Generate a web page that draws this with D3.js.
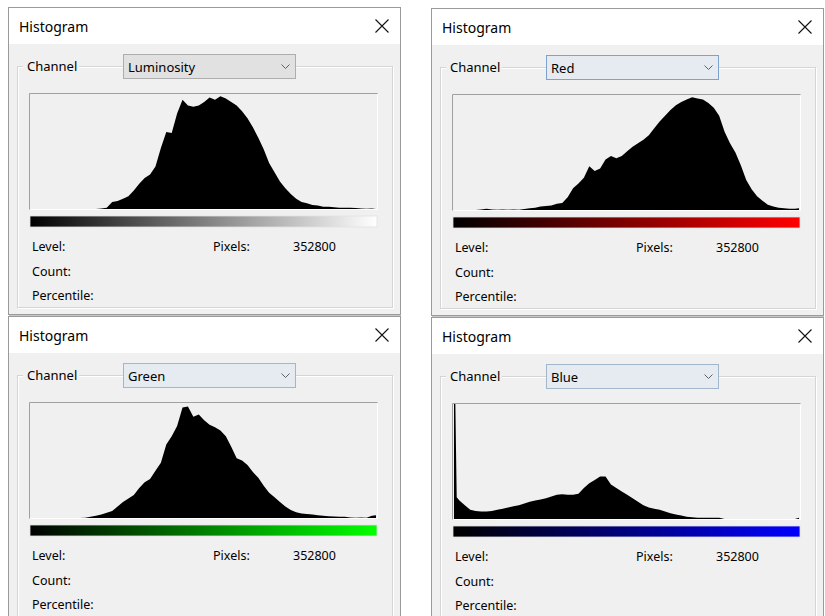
<!DOCTYPE html>
<html>
<head>
<meta charset="utf-8">
<script src="https://cdn.jsdelivr.net/npm/d3@7"></script>
<style>
  html, body { margin: 0; padding: 0; background: #ffffff; }
  svg { display: block; font-family: "Segoe UI", "Noto Sans", "Open Sans", sans-serif; }
</style>
</head>
<body>
<svg id="chart" width="825" height="616"></svg>
<script>
// Sample levels (0..255) at which counts were read (relative counts, max = 100)
const levels = [0, 1, 2].concat(d3.range(4, 253, 4)).concat([255]);

const channels = ["Luminosity", "Red", "Green", "Blue"];
const pixelTotals = ["352800", "352800", "352800", "352800"];
const infoLabels = ["Level:", "Count:", "Percentile:"];

const luminosityCounts = [0, 0, 0,
  0, 0, 0, 0, 0, 0, 0, 0, 0, 0, 0, 0,
  0.5, 1, 6, 7, 9, 11, 16, 22, 27, 30, 37, 53, 67, 66, 83, 95, 90, 89, 90, 93, 97, 95, 98, 96,
  93, 90, 85, 79, 71, 62, 52, 40, 32, 24, 18, 13, 9, 6, 5, 3.5, 3, 2, 2, 1.5, 1, 1, 1, 0.8,
  0.5, 0.3, 0.5,
  0];

const redCounts = [0, 0, 0,
  0, 0, 0, 0, 0.5, 1, 0.5, 0.3, 0.5, 0.3, 0.5, 0.3,
  0.8, 1.5, 2, 3, 3.5, 4, 5.5, 6, 11, 19, 23, 28, 38, 34, 36, 44, 47, 45, 47, 51, 55, 58,
  61, 65, 71, 77, 82, 87, 91, 94, 96, 98, 97, 96, 93, 89, 82, 68, 58, 50, 39, 26, 18, 12, 8,
  4.5, 3, 2, 1.5, 1, 1,
  1.5];

const greenCounts = [0, 0, 0,
  0, 0, 0, 0, 0, 0, 0, 0, 0,
  0.3, 1, 2, 3, 4.5, 6, 10, 14, 17, 20, 26, 31, 34, 41, 48, 64, 71, 80, 96, 97, 88, 90, 85,
  81, 79, 76, 71, 62, 52, 50, 46, 40, 35, 28, 22, 18, 14, 10, 7, 5, 4, 3.5, 3, 2.5, 2, 1.5,
  1.2, 1, 1, 0.5, 0.3, 0.5, 0.3, 2,
  2.5];

const blueCounts = [100, 100, 19,
  16, 12, 8, 7, 6.5, 6.5, 7, 8, 9, 10, 11, 12, 13.5, 15, 16, 17, 18, 19.5, 21, 21.5, 21, 21,
  22, 27, 31, 34, 37, 37, 30, 27, 24, 21, 18, 15, 12, 10, 9, 8, 6.5, 5, 4, 3, 2, 1.5, 1, 1,
  1, 1, 1, 0, 0, 0, 0, 0, 0, 0, 0, 0, 0, 0, 0, 0, 0,
  1];

const seriesCounts = [luminosityCounts, redCounts, greenCounts, blueCounts];
const gradientEnds = ["#ffffff", "#ff0000", "#00ff00", "#0000ff"];
const comboFills = ["#e1e1e1", "#e5ebf1", "#e5ebf1", "#e5ebf1"];
const comboStrokes = ["#adadad", "#7da2ce", "#a2b6cb", "#a2b6cb"];
const panelOffsets = [[0, 0], [423, 1], [0, 309], [423, 310]];

const svg = d3.select("#chart");
const defs = svg.append("defs");

channels.forEach((name, i) => {
  const [ox, oy] = panelOffsets[i];
  const g = svg.append("g").attr("transform", `translate(${ox},${oy})`);

  // window frame
  g.append("rect").attr("x", 8.5).attr("y", 7.5).attr("width", 392).attr("height", 307)
    .attr("fill", "#f0f0f0").attr("stroke", "#9a9a9a");
  g.append("line").attr("x1", 9).attr("x2", 401).attr("y1", 315.5).attr("y2", 315.5)
    .attr("stroke", "#c8c8c8");
  // title bar
  g.append("rect").attr("x", 9).attr("y", 8).attr("width", 391).attr("height", 36)
    .attr("fill", "#ffffff");
  g.append("text").attr("x", 19).attr("y", 32).attr("font-size", 14).attr("fill", "#000")
    .text("Histogram");
  // close X
  g.append("path").attr("d", "M375.5,19.5 L388.5,32.5 M388.5,19.5 L375.5,32.5")
    .attr("stroke", "#111").attr("stroke-width", 1.1).attr("fill", "none");

  // group box
  g.append("rect").attr("x", 18.5).attr("y", 67.5).attr("width", 375).attr("height", 241)
    .attr("fill", "none").attr("stroke", "#ffffff");
  g.append("rect").attr("x", 17.5).attr("y", 66.5).attr("width", 375).attr("height", 241)
    .attr("fill", "none").attr("stroke", "#d5d5d5");
  g.append("rect").attr("x", 23).attr("y", 60).attr("width", 56).attr("height", 12)
    .attr("fill", "#f0f0f0");
  g.append("text").attr("x", 27).attr("y", 71).attr("font-size", 13).attr("fill", "#000")
    .text("Channel");

  // combo box
  g.append("rect").attr("x", 123.5).attr("y", 54.5).attr("width", 172).attr("height", 24)
    .attr("fill", comboFills[i]).attr("stroke", comboStrokes[i]);
  g.append("text").attr("x", 128).attr("y", 72).attr("font-size", 13).attr("fill", "#000")
    .text(name);
  g.append("path").attr("d", "M281.5,64.5 L285.5,68.5 L289.5,64.5")
    .attr("stroke", "#606060").attr("fill", "none");

  // plot box
  const left = 29.5, right = 377.5, top = 93.5, bottom = 209.5;
  g.append("rect").attr("x", left).attr("y", top).attr("width", right - left).attr("height", bottom - top)
    .attr("fill", "#f0f0f0").attr("stroke", "none");

  const x = d3.scaleLinear().domain([0, 255]).range([left + 1.5, right - 1.5]);
  const y = d3.scaleLinear().domain([0, 100]).range([bottom - 0.5, top + 0.5]);

  const data = levels.map((lv, k) => ({ level: lv, count: seriesCounts[i][k] }));
  const area = d3.area()
    .x(d => x(d.level))
    .y0(y(0))
    .y1(d => y(d.count))
    .curve(d3.curveLinear);
  g.append("path").datum(data).attr("d", area).attr("fill", "#000");

  g.append("path").attr("d", `M${left},${bottom} V${top} H${right}`)
    .attr("stroke", "#a0a0a0").attr("fill", "none");
  g.append("path").attr("d", `M${right},${top + 1} V${bottom} H${left + 1}`)
    .attr("stroke", "#ffffff").attr("fill", "none");

  // gradient bar
  const gid = "grad" + i;
  const lg = defs.append("linearGradient").attr("id", gid).attr("x1", "0%").attr("x2", "100%");
  lg.append("stop").attr("offset", "0%").attr("stop-color", "#000000");
  lg.append("stop").attr("offset", "100%").attr("stop-color", gradientEnds[i]);
  g.append("rect").attr("x", 30).attr("y", 216).attr("width", 347).attr("height", 11)
    .attr("fill", `url(#${gid})`).attr("stroke", "#e0e0e0").attr("stroke-width", 0.8);

  // info labels
  infoLabels.forEach((lab, k) => {
    g.append("text").attr("x", 32).attr("y", 251 + k * 24.5).attr("font-size", 12.5)
      .attr("fill", "#000").text(lab);
  });
  g.append("text").attr("x", 213).attr("y", 251).attr("font-size", 12.5).attr("fill", "#000")
    .text("Pixels:");
  g.append("text").attr("x", 293).attr("y", 251).attr("font-size", 12.5).attr("fill", "#000")
    .text(pixelTotals[i]);
});
</script>
</body>
</html>
